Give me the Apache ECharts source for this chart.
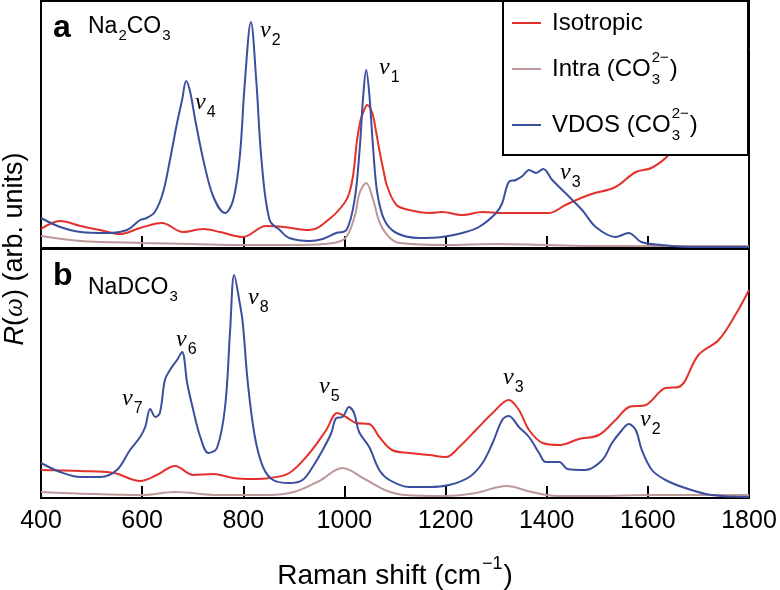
<!DOCTYPE html>
<html>
<head>
<meta charset="utf-8">
<script src="https://cdn.jsdelivr.net/npm/echarts@6/dist/echarts.min.js"></script>
<style>
  html, body { margin: 0; padding: 0; background: #fff; }
  #chart { width: 780px; height: 590px; }
</style>
</head>
<body>
<div id="chart"></div>
<script>
// ---------------- DATA ----------------
var xTicks = [400, 600, 800, 1000, 1200, 1400, 1600, 1800];

// Panel a: Na2CO3
var aIsoX = [400, 438, 478, 517, 556, 596, 639, 681, 721, 754, 799, 845, 880, 931, 975, 1000, 1009, 1017, 1025, 1032, 1039, 1045, 1055, 1062, 1069, 1077, 1085, 1103, 1128, 1168, 1193, 1233, 1273, 1312, 1352, 1405, 1437, 1483, 1536, 1576, 1607, 1641, 1700, 1750, 1800];
var aIsoY = [19, 27, 22, 18, 14, 20, 25, 16, 19, 16, 11, 22, 21, 18, 31, 45, 54, 72, 108, 128, 138, 143, 135, 118, 98, 78, 61, 43, 38, 35, 36, 33, 36, 35, 35, 35, 43, 53, 61, 76, 80, 93, 130, 165, 200];

var aIntraX = [400, 478, 600, 700, 800, 900, 960, 1000, 1020, 1030, 1043, 1057, 1070, 1090, 1110, 1200, 1300, 1400, 1500, 1600, 1700, 1800];
var aIntraY = [12, 7, 5, 4, 3, 3, 4, 9, 31, 55, 65, 48, 25, 10, 5, 3, 4, 3, 2, 2, 2, 2];

var aVdosX = [400, 438, 478, 530, 570, 596, 609, 625, 641, 655, 669, 679, 687, 695, 705, 721, 741, 764, 780, 793, 803, 815, 826, 836, 852, 872, 891, 931, 957, 984, 1004, 1020, 1030, 1037, 1043, 1049, 1057, 1065, 1079, 1103, 1148, 1193, 1233, 1266, 1300, 1312, 1325, 1339, 1352, 1365, 1379, 1393, 1411, 1437, 1470, 1497, 1536, 1562, 1587, 1627, 1680, 1740, 1800];
var aVdosY = [30, 21, 16, 15, 18, 28, 30, 36, 55, 88, 125, 148, 167, 156, 128, 88, 51, 35, 48, 91, 165, 226, 165, 88, 28, 18, 10, 7, 9, 15, 18, 48, 98, 151, 178, 155, 98, 55, 28, 15, 10, 11, 15, 21, 35, 45, 66, 68, 72, 78, 75, 79, 68, 55, 38, 21, 11, 15, 6, 3, 1, 1, 1];

// Panel b: NaDCO3
var bIsoX = [400, 478, 544, 596, 629, 665, 701, 741, 780, 819, 852, 891, 931, 964, 986, 1003, 1023, 1049, 1069, 1094, 1128, 1168, 1201, 1227, 1260, 1293, 1325, 1345, 1365, 1392, 1425, 1464, 1503, 1536, 1563, 1596, 1635, 1661, 1700, 1740, 1773, 1800];
var bIsoY = [28, 27, 25, 17, 23, 32, 23, 24, 20, 19, 20, 25, 45, 68, 85, 81, 75, 74, 61, 48, 45, 43, 41, 51, 68, 85, 98, 88, 68, 55, 53, 59, 63, 78, 91, 93, 110, 111, 143, 158, 183, 208];

var bIntraX = [400, 500, 600, 665, 750, 850, 900, 950, 996, 1040, 1080, 1120, 1200, 1260, 1320, 1370, 1420, 1500, 1600, 1700, 1800];
var bIntraY = [6, 4, 3, 6, 3, 3, 6, 17, 30, 19, 8, 3, 2, 5, 12, 6, 2, 2, 3, 3, 3];

var bVdosX = [400, 438, 478, 517, 550, 576, 596, 606, 616, 626, 635, 645, 655, 669, 679, 689, 701, 715, 731, 748, 764, 774, 782, 793, 799, 809, 823, 839, 859, 891, 917, 937, 957, 974, 984, 996, 1009, 1019, 1029, 1049, 1069, 1089, 1128, 1168, 1207, 1247, 1273, 1293, 1312, 1325, 1345, 1365, 1385, 1398, 1425, 1441, 1476, 1510, 1529, 1549, 1562, 1576, 1588, 1608, 1635, 1674, 1726, 1800];
var bVdosY = [35, 26, 21, 21, 28, 48, 61, 71, 89, 81, 85, 118, 128, 138, 146, 115, 88, 61, 45, 50, 91, 168, 223, 195, 175, 115, 61, 31, 18, 15, 18, 31, 48, 65, 80, 81, 91, 85, 66, 51, 28, 18, 11, 11, 13, 21, 35, 55, 78, 82, 71, 61, 45, 36, 36, 29, 28, 38, 55, 68, 74, 68, 48, 28, 18, 10, 3, 1];

var seriesNames = ['Isotropic', 'Intra (CO3 2−)', 'VDOS (CO3 2−)'];
var colors = ['#e3312b', '#bb999b', '#3c4f9e'];

// ---------------- HELPERS ----------------
function zip(xs, ys) { return xs.map(function (x, i) { return [x, ys[i]]; }); }
var SANS = '"Liberation Sans", Arial, Helvetica, sans-serif';
var SERIF = '"Liberation Serif", "DejaVu Serif", serif';
var ctx = document.createElement('canvas').getContext('2d');
function tw(text, size, family, style) {
  ctx.font = (style || '') + ' ' + size + 'px ' + family;
  return ctx.measureText(text).width;
}
function txt(text, x, y, size, opts) {
  opts = opts || {};
  return {
    type: 'text', z: 110, silent: true,
    style: {
      text: text, x: x, y: y,
      fontSize: size, fontFamily: opts.family || SANS,
      fontStyle: opts.italic ? 'italic' : 'normal',
      fontWeight: opts.bold ? 'bold' : 'normal',
      fill: '#000', textAlign: opts.align || 'left', textVerticalAlign: 'middle'
    }
  };
}
// nu label with subscript: nu glyph centre at (x, y)
function nuLabel(sub, x, y) {
  var w = tw('ν', 24, SERIF, 'italic');
  return [
    txt('ν', x, y - 3, 24, { family: SERIF, italic: true }),
    txt(sub, x + w + 1, y + 7, 16)
  ];
}
function line(name, xs, ys, gi, color) {
  return {
    name: name, type: 'line', xAxisIndex: gi, yAxisIndex: gi,
    data: zip(xs, ys), showSymbol: false, smooth: 0.35,
    lineStyle: { color: color, width: 2 }, itemStyle: { color: color },
    clip: true, z: 3
  };
}

// ---------------- GRAPHICS (annotations) ----------------
var g = [];
// panel labels
g.push(txt('a', 53, 28, 32, { bold: true }));
var x0 = 88;
g.push(txt('Na', x0, 27, 23)); x0 += tw('Na', 23, SANS);
g.push(txt('2', x0 + 1, 36, 15)); x0 += tw('2', 15, SANS) + 1;
g.push(txt('CO', x0, 27, 23)); x0 += tw('CO', 23, SANS);
g.push(txt('3', x0 + 1, 36, 15));

g.push(txt('b', 53, 276, 32, { bold: true }));
x0 = 88;
g.push(txt('NaDCO', x0, 288, 23)); x0 += tw('NaDCO', 23, SANS);
g.push(txt('3', x0 + 1, 297, 15));

// peak labels
g = g.concat(nuLabel('4', 195, 106));
g = g.concat(nuLabel('2', 260, 34));
g = g.concat(nuLabel('1', 379, 71));
g = g.concat(nuLabel('3', 560, 176));
g = g.concat(nuLabel('8', 248, 301));
g = g.concat(nuLabel('6', 176, 343));
g = g.concat(nuLabel('7', 122, 402));
g = g.concat(nuLabel('5', 319, 390));
g = g.concat(nuLabel('3', 503, 381));
g = g.concat(nuLabel('2', 640, 423));

// legend box
g.push({ type: 'rect', z: 100, silent: true,
  shape: { x: 503, y: 1, width: 245, height: 154 },
  style: { fill: '#fff', stroke: '#000', lineWidth: 2 } });
var legRows = [23, 69, 125];
var legMain = ['Isotropic', 'Intra (CO', 'VDOS (CO'];
legRows.forEach(function (ry, i) {
  g.push({ type: 'line', z: 105, silent: true,
    shape: { x1: 512, y1: ry, x2: 541, y2: ry },
    style: { stroke: colors[i], lineWidth: 2 } });
  g.push(txt(legMain[i], 552, ry, 24));
  if (i > 0) {
    var xs = 552 + tw(legMain[i], 24, SANS) + 1;
    g.push(txt('2−', xs, ry - 11, 15));
    g.push(txt('3', xs, ry + 11, 15));
    g.push(txt(')', xs + tw('2−', 15, SANS) + 1, ry, 24));
  }
});

// x axis title
(function () {
  var p1 = 'Raman shift (cm', p2 = '−1', p3 = ')';
  var F = 28, f = 18;
  var w1 = tw(p1, F, SANS), w2 = tw(p2, f, SANS), w3 = tw(p3, F, SANS);
  var total = w1 + w2 + w3 + 2;
  var sx = 395 - total / 2;
  g.push(txt(p1, sx, 576, F));
  g.push(txt(p2, sx + w1 + 1, 564, f));
  g.push(txt(p3, sx + w1 + w2 + 2, 576, F));
})();

// y axis title (rotated)
g.push({
  type: 'text', z: 110, silent: true, x: 15, y: 249, rotation: Math.PI / 2,
  style: {
    text: '{i|R}({w|ω}) (arb. units)', x: 0, y: 0,
    fontSize: 27, fontFamily: SANS, fill: '#000',
    textAlign: 'center', textVerticalAlign: 'middle',
    rich: {
      i: { fontSize: 27, fontFamily: SANS, fontStyle: 'italic' },
      w: { fontSize: 27, fontFamily: SERIF, fontStyle: 'italic' }
    }
  }
});

// ---------------- OPTION ----------------
function xAxisCfg(gi, showLabels) {
  return {
    type: 'value', gridIndex: gi, min: 400, max: 1800, interval: 200,
    axisLine: { show: true, lineStyle: { color: '#000', width: 2 } },
    axisTick: { show: true, inside: true, length: 12, lineStyle: { color: '#000', width: 2 } },
    axisLabel: { show: showLabels, color: '#000', fontSize: 25, fontFamily: SANS, margin: 11,
      formatter: function (v) { return xTicks.indexOf(v) >= 0 ? String(v) : ''; } },
    splitLine: { show: false }
  };
}
function yAxisCfg(gi, max) {
  return {
    type: 'value', gridIndex: gi, min: 0, max: max,
    axisLine: { show: false }, axisTick: { show: false },
    axisLabel: { show: false }, splitLine: { show: false }
  };
}

var option = {
  animation: false,
  backgroundColor: '#fff',
  grid: [
    { left: 41, right: 31, top: 1, height: 247, show: true, borderColor: '#000', borderWidth: 2, backgroundColor: 'transparent' },
    { left: 41, right: 31, top: 249, height: 249, show: true, borderColor: '#000', borderWidth: 2, backgroundColor: 'transparent' }
  ],
  xAxis: [xAxisCfg(0, false), xAxisCfg(1, true)],
  yAxis: [yAxisCfg(0, 247), yAxisCfg(1, 249)],
  series: [
    line(seriesNames[1], aIntraX, aIntraY, 0, colors[1]),
    line(seriesNames[0], aIsoX, aIsoY, 0, colors[0]),
    line(seriesNames[2], aVdosX, aVdosY, 0, colors[2]),
    line(seriesNames[1], bIntraX, bIntraY, 1, colors[1]),
    line(seriesNames[0], bIsoX, bIsoY, 1, colors[0]),
    line(seriesNames[2], bVdosX, bVdosY, 1, colors[2])
  ],
  graphic: g
};

var chart = echarts.init(document.getElementById('chart'), null, { renderer: 'canvas' });
chart.setOption(option);
</script>
</body>
</html>
